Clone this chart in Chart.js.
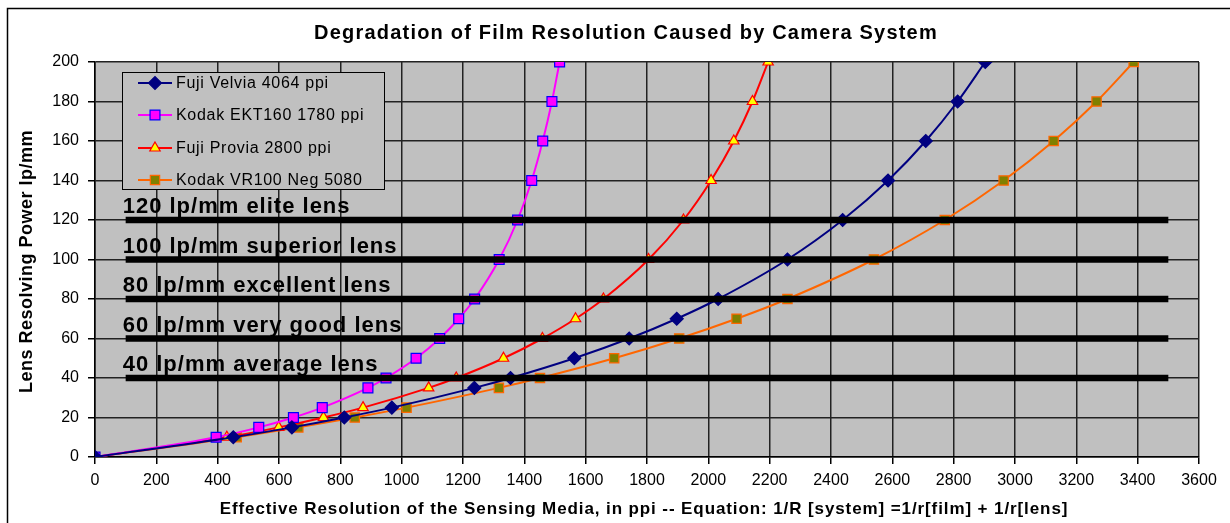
<!DOCTYPE html>
<html>
<head>
<meta charset="utf-8">
<script src="https://cdn.jsdelivr.net/npm/chart.js"></script>
<style>
  html, body { margin: 0; padding: 0; background: #fff; }
  canvas { display: block; }
</style>
</head>
<body>
<canvas id="chart" width="1230" height="523"></canvas>
<script>
// lens resolving power (lp/mm) - y value of every marker
const lensPower = [0, 10, 15, 20, 25, 35, 40, 50, 60, 70, 80, 100, 120, 140, 160, 180, 200];

// effective resolution (ppi) for each film
const velviaPpi = [0, 451, 642, 813, 968, 1237, 1355, 1563, 1742, 1897, 2032, 2258, 2438, 2586, 2709, 2813, 2903];
const ekt160Ppi = [0, 395, 534, 647, 741, 890, 949, 1047, 1124, 1186, 1238, 1318, 1378, 1424, 1460, 1490, 1515];
const proviaPpi = [0, 430, 599, 745, 874, 1088, 1178, 1332, 1459, 1567, 1658, 1805, 1919, 2009, 2083, 2144, 2195];
const vr100Ppi = [0, 462, 663, 847, 1016, 1317, 1451, 1693, 1905, 2092, 2258, 2540, 2771, 2963, 3126, 3266, 3387];

const seriesNames = ['Fuji Velvia 4064 ppi', 'Kodak EKT160 1780 ppi', 'Fuji Provia 2800 ppi', 'Kodak VR100 Neg 5080'];

// reference lens classes (horizontal black bars)
const lensLevels = [120, 100, 80, 60, 40];
const lensNames = ['120 lp/mm elite lens', '100 lp/mm superior lens', '80 lp/mm excellent lens', '60 lp/mm very good lens', '40 lp/mm average lens'];
const lensBarFrom = 100;
const lensBarTo = 3500;

const chartTitle = 'Degradation of Film Resolution Caused by Camera System';
const xTitle = 'Effective Resolution of the Sensing Media, in ppi -- Equation: 1/R [system] =1/r[film] + 1/r[lens]';
const yTitle = 'Lens Resolving Power lp/mm';

const toPoints = (xs) => xs.map((x, i) => ({ x: x, y: lensPower[i] }));

const styles = [
  { line: '#000080', fill: '#000080', edge: '#000080', shape: 'rectRot', r: 6.5 },
  { line: '#FF00FF', fill: '#FF00FF', edge: '#0000FF', shape: 'rect', r: 7 },
  { line: '#FF0000', fill: '#FFFF00', edge: '#FF0000', shape: 'triangle', r: 6 },
  { line: '#FF6600', fill: '#808000', edge: '#FF6600', shape: 'rect', r: 6.6 }
];

const seriesData = [velviaPpi, ekt160Ppi, proviaPpi, vr100Ppi];

const datasets = seriesData.map((xs, i) => ({
  label: seriesNames[i],
  data: toPoints(xs),
  borderColor: styles[i].line,
  borderWidth: 2,
  backgroundColor: styles[i].fill,
  pointBackgroundColor: styles[i].fill,
  pointBorderColor: styles[i].edge,
  pointBorderWidth: 1.2,
  pointStyle: styles[i].shape,
  pointRadius: styles[i].r,
  cubicInterpolationMode: 'monotone',
  fill: false,
  order: 1
}));

lensLevels.forEach((lvl) => {
  datasets.push({
    label: 'bar' + lvl,
    data: [{ x: lensBarFrom, y: lvl }, { x: lensBarTo, y: lvl }],
    borderColor: '#000',
    borderWidth: 6.5,
    pointRadius: 0,
    fill: false,
    order: 0
  });
});

// background, frame, titles, legend, lens labels
const decor = {
  id: 'decor',
  beforeDraw(chart) {
    const ctx = chart.ctx;
    const a = chart.chartArea;
    ctx.save();
    ctx.fillStyle = '#fff';
    ctx.fillRect(0, 0, chart.width, chart.height);
    ctx.fillStyle = '#C0C0C0';
    ctx.fillRect(a.left, a.top, a.right - a.left, a.bottom - a.top);
    // outer frame (only left and top are visible)
    ctx.strokeStyle = '#000';
    ctx.lineWidth = 1.5;
    ctx.beginPath();
    ctx.moveTo(7.5, chart.height);
    ctx.lineTo(7.5, 8.5);
    ctx.lineTo(chart.width, 8.5);
    ctx.stroke();
    ctx.restore();
  },
  afterDatasetsDraw(chart) {
    const ctx = chart.ctx;
    const xs = chart.scales.x;
    const ys = chart.scales.y;
    const a = chart.chartArea;
    ctx.save();
    ctx.fillStyle = '#000';

    // lens class labels
    ctx.font = 'bold 22px Arial, "Liberation Sans", sans-serif';
    ctx.letterSpacing = '1px';
    ctx.textAlign = 'left';
    ctx.textBaseline = 'alphabetic';
    lensLevels.forEach((lvl, i) => {
      ctx.fillText(lensNames[i], xs.getPixelForValue(lensBarFrom) - 3, ys.getPixelForValue(lvl) - 7);
    });

    // title
    ctx.font = 'bold 20px Arial, "Liberation Sans", sans-serif';
    ctx.letterSpacing = '1.2px';
    ctx.textAlign = 'center';
    ctx.textBaseline = 'middle';
    ctx.fillText(chartTitle, 626, 33);

    // x title
    ctx.font = 'bold 17px Arial, "Liberation Sans", sans-serif';
    ctx.letterSpacing = '0.9px';
    ctx.fillText(xTitle, 644, 509);

    // y title
    ctx.save();
    ctx.translate(27, (a.top + a.bottom) / 2 + 2);
    ctx.rotate(-Math.PI / 2);
    ctx.font = 'bold 18px Arial, "Liberation Sans", sans-serif';
    ctx.letterSpacing = '0.5px';
    ctx.fillText(yTitle, 0, 0);
    ctx.restore();

    // legend box
    const bx = 122, by = 72, bw = 262, bh = 117;
    ctx.fillStyle = '#C0C0C0';
    ctx.fillRect(bx, by, bw, bh);
    ctx.strokeStyle = '#000';
    ctx.lineWidth = 1;
    ctx.strokeRect(bx + 0.5, by + 0.5, bw, bh);
    const rowY = [83, 115, 148, 180];
    ctx.font = '16px Arial, "Liberation Sans", sans-serif';
    ctx.letterSpacing = '0.7px';
    ctx.textAlign = 'left';
    ctx.textBaseline = 'middle';
    seriesNames.forEach((name, i) => {
      const st = styles[i];
      const y = rowY[i];
      ctx.strokeStyle = st.line;
      ctx.lineWidth = 2;
      ctx.beginPath();
      ctx.moveTo(138, y);
      ctx.lineTo(172, y);
      ctx.stroke();
      ctx.fillStyle = st.fill;
      ctx.strokeStyle = st.edge;
      ctx.lineWidth = 1.2;
      Chart.helpers.drawPoint(ctx, { pointStyle: st.shape, radius: st.r, rotation: 0, borderWidth: 1.2 }, 155, y);
      ctx.fillStyle = '#000';
      ctx.fillText(name, 176, y + 1);
    });
    ctx.restore();
  }
};

new Chart(document.getElementById('chart'), {
  type: 'line',
  data: { datasets: datasets },
  options: {
    responsive: false,
    animation: false,
    devicePixelRatio: 1,
    layout: { padding: { left: 0, right: 31, top: 62, bottom: 0 } },
    plugins: {
      legend: { display: false },
      title: { display: false },
      tooltip: { enabled: false }
    },
    scales: {
      x: {
        type: 'linear',
        min: 0,
        max: 3600,
        ticks: {
          stepSize: 200,
          color: '#000',
          padding: 7,
          maxRotation: 0,
          callback: (v) => String(v),
          font: { family: 'Arial, "Liberation Sans", sans-serif', size: 16 }
        },
        grid: { color: '#222', lineWidth: 1.5, tickLength: 7, tickColor: '#000' },
        border: { color: '#000', width: 1.5 },
        afterFit: (s) => { s.height = 66; }
      },
      y: {
        min: 0,
        max: 200,
        ticks: {
          stepSize: 20,
          color: '#000',
          padding: 9,
          callback: (v) => String(v),
          font: { family: 'Arial, "Liberation Sans", sans-serif', size: 16 }
        },
        grid: { color: '#222', lineWidth: 1.5, tickLength: 7, tickColor: '#000' },
        border: { color: '#000', width: 1.5 },
        afterFit: (s) => { s.width = 95; }
      }
    }
  },
  plugins: [decor]
});
</script>
</body>
</html>
